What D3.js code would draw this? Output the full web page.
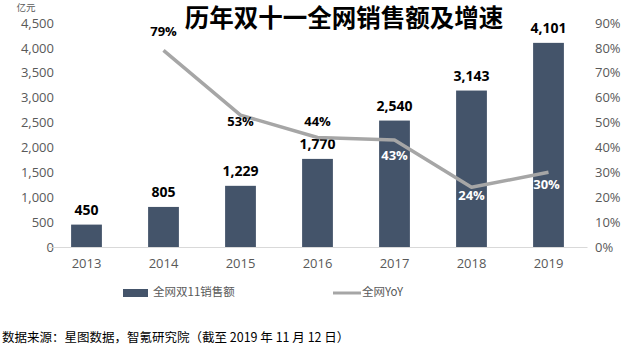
<!DOCTYPE html>
<html><head><meta charset="utf-8">
<script src="https://cdn.jsdelivr.net/npm/d3@7"></script>
<style>body{margin:0;background:#fff;}svg{display:block;font-family:"Noto Sans CJK SC","Open Sans",sans-serif;}</style>
</head><body><svg id="c" width="621" height="351"></svg>
<script>
const years = ["2013","2014","2015","2016","2017","2018","2019"];
const sales = [450, 805, 1229, 1770, 2540, 3143, 4101];
const yoy = [null, 79, 53, 44, 43, 24, 30];
const leftTicks = [0,500,1000,1500,2000,2500,3000,3500,4000,4500];
const rightTicks = [0,10,20,30,40,50,60,70,80,90];

const svg = d3.select("#c");
const x = d3.scaleBand().domain(years).range([48, 587]).paddingInner(0.6).paddingOuter(0.3);
const yL = d3.scaleLinear().domain([0,4500]).range([247,23]);
const yR = d3.scaleLinear().domain([0,90]).range([247,23]);
const fmt = d3.format(",");

// title
svg.append("text").attr("x",344).attr("y",27).attr("text-anchor","middle")
  .attr("font-size",24.5).attr("font-weight","bold").attr("fill","#000").text("历年双十一全网销售额及增速");
svg.append("text").attr("x",26).attr("y",8).attr("text-anchor","middle").attr("dominant-baseline","middle")
  .attr("font-size",9.5).attr("fill","#595959").text("亿元");

// left axis
const gl = svg.append("g").attr("transform","translate(54,0)")
  .call(d3.axisLeft(yL).tickValues(leftTicks).tickFormat(fmt).tickSize(0).tickPadding(0));
gl.select(".domain").remove();
gl.selectAll("text").attr("font-size",13).attr("fill","#595959").attr("font-family","'Open Sans',sans-serif");

// right axis
const gr = svg.append("g").attr("transform","translate(595,0)")
  .call(d3.axisRight(yR).tickValues(rightTicks).tickFormat(d=>d+"%").tickSize(0).tickPadding(0));
gr.select(".domain").remove();
gr.selectAll("text").attr("font-size",13).attr("fill","#595959").attr("font-family","'Open Sans',sans-serif");

// bottom axis
const gb = svg.append("g").attr("transform","translate(0,247)")
  .call(d3.axisBottom(x).tickSize(0).tickPadding(12));
gb.select(".domain").attr("stroke","#D9D9D9").attr("stroke-width",1.2);
gb.selectAll("text").attr("font-size",13).attr("fill","#595959").attr("font-family","'Open Sans',sans-serif");

// bars
svg.append("g").selectAll("rect").data(sales).join("rect")
  .attr("x",(d,i)=>x(years[i])).attr("width",x.bandwidth())
  .attr("y",d=>yL(d)).attr("height",d=>yL(0)-yL(d)).attr("fill","#44546A");

svg.append("g").selectAll("text").data(sales).join("text")
  .attr("x",(d,i)=>x(years[i])+x.bandwidth()/2).attr("y",d=>yL(d)-10)
  .attr("text-anchor","middle").attr("font-size",14).attr("font-weight","bold")
  .attr("font-family","'Open Sans',sans-serif").attr("fill","#000").text(d=>fmt(d));

// line
const pts = yoy.map((v,i)=>({v,i})).filter(p=>p.v!==null);
const line = d3.line().x(p=>x(years[p.i])+x.bandwidth()/2).y(p=>yR(p.v));
svg.append("path").datum(pts).attr("d",line).attr("fill","none")
  .attr("stroke","#A6A6A6").attr("stroke-width",3.5).attr("stroke-linejoin","round");

// yoy labels: above for some, below for others
const labelDy = {1:-18, 2:7, 3:-15, 4:17, 5:9, 6:13};
svg.append("g").selectAll("text").data(pts).join("text")
  .attr("x",p=>x(years[p.i])+x.bandwidth()/2 + (p.i===6?-2:0))
  .attr("y",p=>yR(p.v)+labelDy[p.i])
  .attr("text-anchor","middle").attr("dominant-baseline","middle")
  .attr("font-size",13).attr("font-weight","bold").attr("font-family","'Open Sans',sans-serif")
  .attr("fill",p=> (yR(p.v)+labelDy[p.i]-6 > yL(sales[p.i])) ? "#fff" : "#000")
  .text(p=>p.v+"%");

// legend
svg.append("rect").attr("x",123).attr("y",289).attr("width",25).attr("height",8).attr("fill","#44546A");
svg.append("text").attr("x",153).attr("y",293).attr("dominant-baseline","middle")
  .attr("font-size",11.5).attr("fill","#595959").text("全网双11销售额");
svg.append("line").attr("x1",333).attr("x2",361).attr("y1",293).attr("y2",293)
  .attr("stroke","#A6A6A6").attr("stroke-width",3);
svg.append("text").attr("x",362).attr("y",293).attr("dominant-baseline","middle")
  .attr("font-size",11.5).attr("fill","#595959").text("全网YoY");

// source
svg.append("text").attr("x",2).attr("y",339).attr("dominant-baseline","middle")
  .attr("font-size",12.5).attr("fill","#000").text("数据来源：星图数据，智氪研究院（截至 2019 年 11 月 12 日）");
</script></body></html>
